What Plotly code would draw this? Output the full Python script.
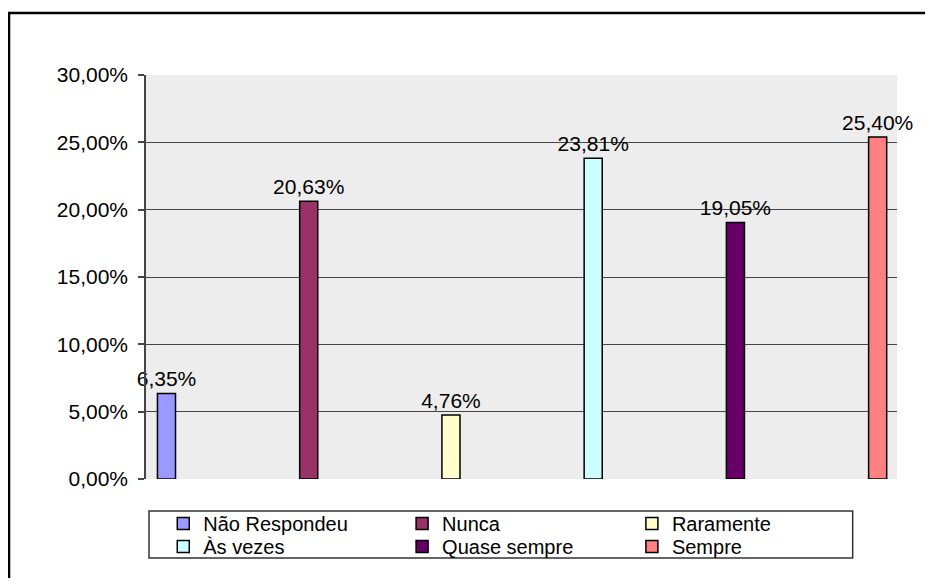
import plotly.graph_objects as go

# dados
CATEGORIAS = ['Não Respondeu', 'Nunca', 'Raramente', 'Às vezes', 'Quase sempre', 'Sempre']
VALORES = [0.0635, 0.2063, 0.0476, 0.2381, 0.1905, 0.2540]
CORES = ['#9999FF', '#993366', '#FFFFCC', '#CCFFFF', '#660066', '#FF8080']
TICKS_Y = [0, 0.05, 0.10, 0.15, 0.20, 0.25, 0.30]

FONTE = 'Liberation Sans, Arial, sans-serif'
PRETO = '#000000'
GRADE = '#454545'
FUNDO = '#EDEDED'

# posicao de cada item da legenda (coluna x, linha y) em coordenadas paper
LEG_X = [0.023, 0.341, 0.647]
LEG_Y = [-0.110, -0.167]

fig = go.Figure()
for i, (cat, val, cor) in enumerate(zip(CATEGORIAS, VALORES, CORES)):
    leg = 'legend' if i == 0 else f'legend{i + 1}'
    fig.add_trace(go.Bar(
        x=[cat], y=[val], name=cat, width=0.127,
        marker=dict(color=cor, line=dict(color=PRETO, width=1.5)),
        texttemplate='%{y:.2%}', textposition='outside', cliponaxis=False,
        constraintext='none',
        textfont=dict(size=21, color=PRETO, family=FONTE),
        legend=leg,
    ))

legendas = {}
for i in range(len(CATEGORIAS)):
    leg = 'legend' if i == 0 else f'legend{i + 1}'
    legendas[leg] = dict(
        x=LEG_X[i % 3], y=LEG_Y[i // 3], xanchor='left', yanchor='middle',
        bgcolor='rgba(0,0,0,0)', borderwidth=0, itemwidth=30,
        font=dict(size=20, color=PRETO, family=FONTE),
    )

# a pagina tem margem de 8px no body, por isso a figura e um pouco menor
fig.update_layout(
    width=917, height=570,
    separators=', ',
    barmode='overlay',
    font=dict(family=FONTE, color=PRETO),
    plot_bgcolor=FUNDO, paper_bgcolor='white',
    margin=dict(l=138, r=28, t=67, b=99),
    xaxis=dict(
        type='category', categoryorder='array', categoryarray=CATEGORIAS,
        range=[-0.144, 5.136], showticklabels=False, showgrid=False,
        zeroline=False, showline=False, ticks='',
    ),
    yaxis=dict(
        range=[0, 0.30], tickvals=TICKS_Y, tickformat='.2%',
        showgrid=True, gridcolor=GRADE, gridwidth=1, zeroline=False,
        showline=True, linecolor=GRADE, linewidth=1.5,
        ticks='outside', ticklen=6, tickcolor=GRADE, tickwidth=1.5,
        ticklabelstandoff=6,
        tickfont=dict(size=21, color=PRETO, family=FONTE),
    ),
    showlegend=True,
    shapes=[
        # caixa da legenda
        dict(type='rect', xref='paper', yref='paper',
             x0=0.004, x1=0.941, y0=-0.1955, y1=-0.079,
             line=dict(color='#333333', width=1.5), fillcolor='rgba(0,0,0,0)'),
        # moldura externa do grafico
        dict(type='rect', xref='paper', yref='paper',
             x0=-0.1824, x1=1.08, y0=-0.30, y1=1.1535,
             line=dict(color=PRETO, width=2.5), fillcolor='rgba(0,0,0,0)'),
    ],
    **legendas,
)

fig.write_html('out.html')
